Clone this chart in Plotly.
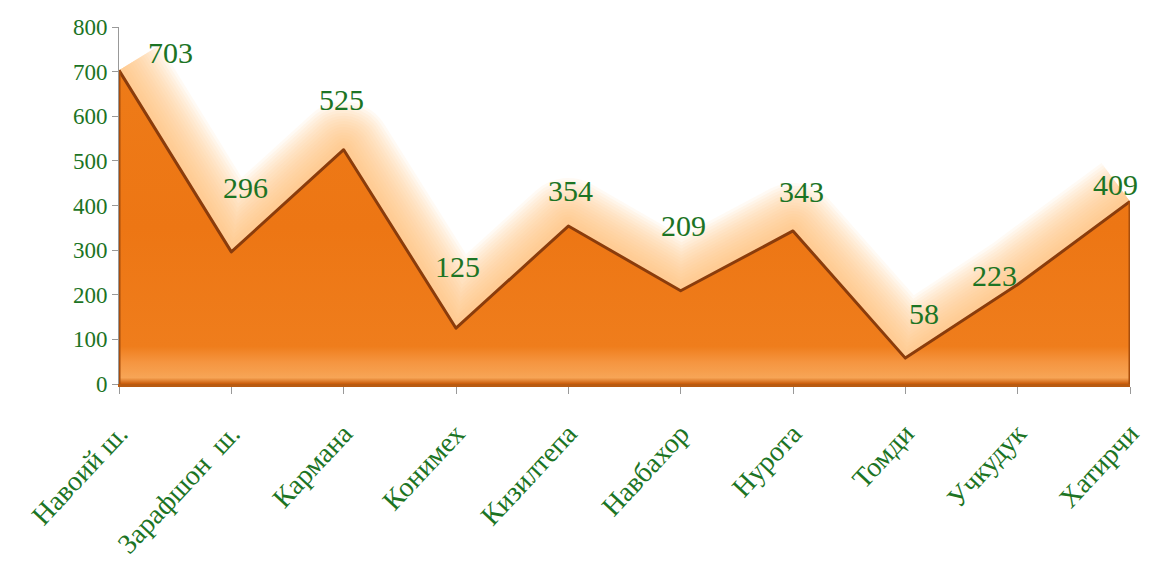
import plotly.graph_objects as go

categories = ["Навоий ш.", "Зарафшон  ш.", "Кармана", "Конимех", "Кизилтепа",
              "Навбахор", "Нурота", "Томди", "Учкудук", "Хатирчи"]
values = [703, 296, 525, 125, 354, 209, 343, 58, 223, 409]
y_ticks = [0, 100, 200, 300, 400, 500, 600, 700, 800]

# label placement tweaks (pixels), layout only
label_dx = [51, 14, -2, 1, 2, 3, 8, 19, -23, -15]
label_dy = [18, 64, 50, 62, 36, 65, 39, 45, 9, 17]

GREEN = "#1c7424"
FONT = "Liberation Serif"

fig = go.Figure()

# soft glow above the ridge
n = 16
for i in range(n):
    w = 96 - i * 5.6
    fig.add_trace(go.Scatter(
        x=categories, y=values, mode="lines",
        line=dict(color="rgba(251,185,120,0.08)", width=w),
        hoverinfo="skip", showlegend=False))

# main area
fig.add_trace(go.Scatter(
    x=categories, y=values, mode="lines", fill="tozeroy",
    line=dict(color="#8a3c0c", width=3),
    fillgradient=dict(
        type="vertical", start=0, stop=max(values),
        colorscale=[[0, "#c85a08"], [0.02, "#f7a556"], [0.07, "#f59540"],
                    [0.12, "#ef7d1c"], [0.5, "#ed7614"], [1, "#ee7b18"]]),
    hoverinfo="skip", showlegend=False))

# dark side edges of the area
for idx in (0, len(values) - 1):
    fig.add_shape(type="line", x0=categories[idx], x1=categories[idx],
                  y0=0, y1=values[idx], line=dict(color="#a84e0c", width=3))

for c, v, dx, dy in zip(categories, values, label_dx, label_dy):
    fig.add_annotation(x=c, y=v, text=str(v), showarrow=False,
                       xshift=dx, yshift=dy,
                       font=dict(family=FONT, size=30, color=GREEN))

fig.update_layout(
    width=1152, height=570,
    margin=dict(l=119, r=22, t=27, b=186),
    paper_bgcolor="white", plot_bgcolor="white",
    font=dict(family=FONT, color=GREEN),
    showlegend=False,
)
fig.update_xaxes(
    type="category", range=[0, 9], showgrid=False, zeroline=False,
    automargin=False,
    showline=True, linecolor="#b85a10", linewidth=3,
    ticks="outside", tickcolor="#999999", ticklen=7, tickwidth=1,
    ticklabelstandoff=12,
    tickangle=-47, tickfont=dict(family=FONT, size=28, color=GREEN),
)
fig.update_yaxes(
    range=[0, 800], tickvals=y_ticks, showgrid=False, zeroline=False,
    automargin=False,
    showline=True, linecolor="#999999", linewidth=1,
    ticks="outside", tickcolor="#999999", ticklen=6,
    tickfont=dict(family=FONT, size=23, color=GREEN),
)

fig.write_html(
    "out.html",
    config={"displayModeBar": False},
    post_script=(
        "document.body.style.margin='0';"
        "document.body.style.overflow='hidden';"
        "var s=document.createElement('style');"
        "s.textContent='.scatterlayer .js-line{stroke-linejoin:round;}';"
        "document.head.appendChild(s);"
    ),
)
